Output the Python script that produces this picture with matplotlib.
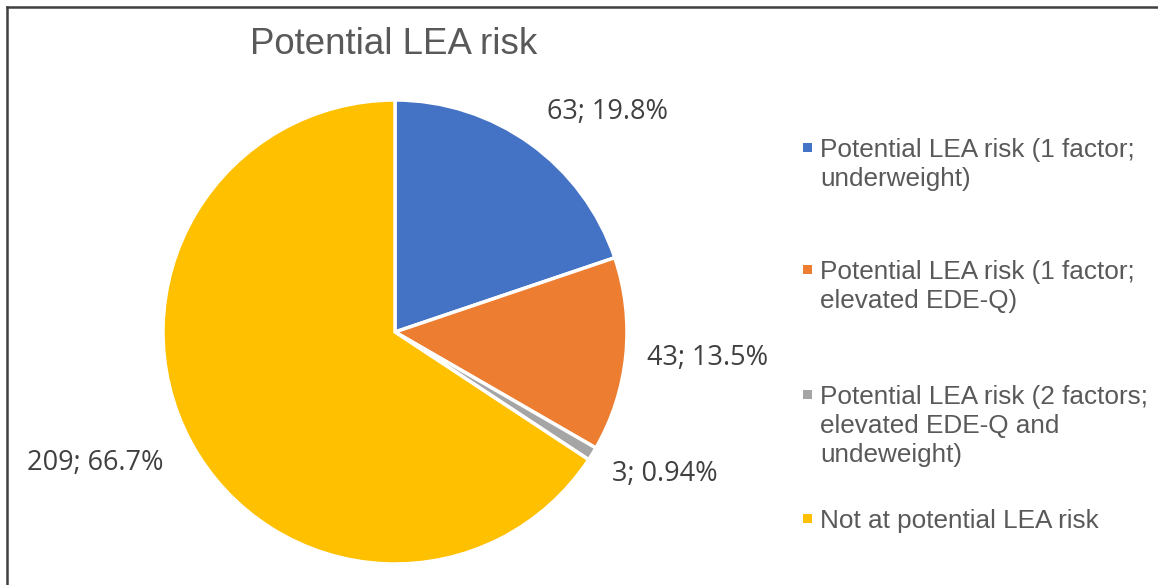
import matplotlib
matplotlib.use("Agg")
import numpy as np
from matplotlib import pyplot as plt
from matplotlib.lines import Line2D
from matplotlib.patches import Rectangle

# data
categories = ["Potential LEA risk (1 factor;\nunderweight)",
              "Potential LEA risk (1 factor;\nelevated EDE-Q)",
              "Potential LEA risk (2 factors;\nelevated EDE-Q and\nundeweight)",
              "Not at potential LEA risk"]
counts = [63, 43, 3, 209]
pct_labels = ["19.8%", "13.5%", "0.94%", "66.7%"]
colors = ["#4472C4", "#ED7D31", "#A5A5A5", "#FFC000"]

# label anchor spots (data coords, radius = 1)
label_pos = [(0.918, 0.948), (1.349, -0.112), (1.164, -0.612), (-1.293, -0.565)]

W, H = 1158, 585
fig = plt.figure(figsize=(W / 100, H / 100), dpi=100)
fig.patch.set_facecolor("white")

cx, cy, r = 395, 332, 232
ax = fig.add_axes([(cx - r) / W, (H - cy - r) / H, 2 * r / W, 2 * r / H])
wedges, _ = ax.pie(counts, colors=colors, startangle=90, counterclock=False,
                   wedgeprops=dict(edgecolor="white", linewidth=2.5))
ax.set_xlim(-1, 1)
ax.set_ylim(-1, 1)
ax.set_aspect("equal")

for (x, y), n, p in zip(label_pos, counts, pct_labels):
    ax.text(x, y, f"{n}; {p}", ha="center", va="center", fontsize=19.5,
            color="#404040", family="Open Sans")

fig.text(250 / W, 1 - 45 / H, "Potential LEA risk", ha="left", va="center",
         fontsize=26.4, color="#595959", family="Liberation Sans")

# legend drawn by hand (first-line centres, px from top)
legend_top = [148, 270, 395, 519]
for top, lab, c in zip(legend_top, categories, wedges):
    fig.text(820 / W, 1 - (top - 10) / H, lab, ha="left", va="top",
             fontsize=18.8, color="#595959", family="Liberation Sans",
             linespacing=1.26)
    fig.patches.append(Rectangle((803 / W, 1 - (top + 4) / H), 9 / W, 9 / H,
                                 transform=fig.transFigure, facecolor=c.get_facecolor(),
                                 edgecolor="none"))

# outer frame (only top and left visible)
fig.add_artist(Line2D([7.5 / W, 7.5 / W], [0, 1 - 6.5 / H], color="#404040", lw=1.8,
                      transform=fig.transFigure))
fig.add_artist(Line2D([7.5 / W, 1], [1 - 6.5 / H, 1 - 6.5 / H], color="#404040", lw=1.8,
                      transform=fig.transFigure))

fig.savefig("out.png", dpi=100, facecolor="white")
